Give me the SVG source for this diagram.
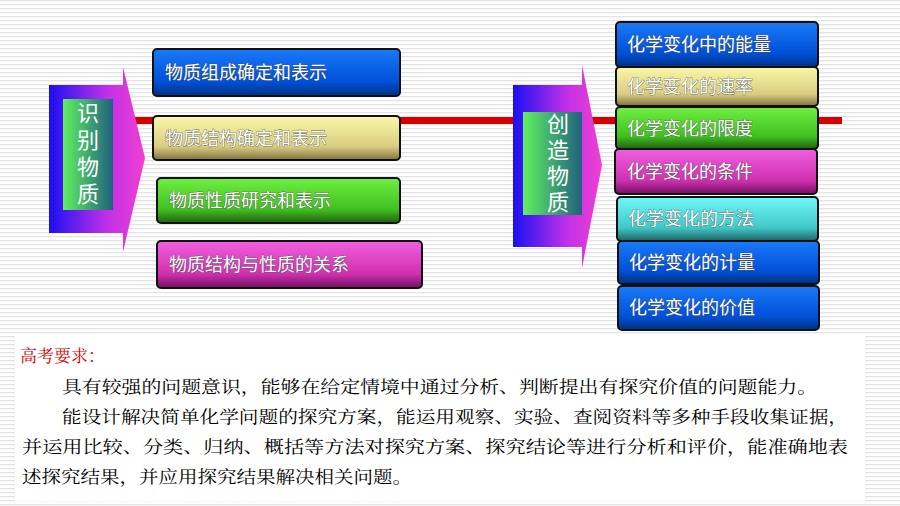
<svg xmlns="http://www.w3.org/2000/svg" width="900" height="506" viewBox="0 0 900 506">
<defs>
<pattern id="stripes" width="10" height="4" patternUnits="userSpaceOnUse"><rect width="10" height="4" fill="#ffffff"/><rect y="0" width="10" height="1.3" fill="#e4e4e4"/></pattern>
<linearGradient id="arr" x1="0" x2="1"><stop offset="0" stop-color="#1a10f0"/><stop offset="0.6" stop-color="#c030e8"/><stop offset="1" stop-color="#f040d0"/></linearGradient>
<linearGradient id="inner" x1="0" x2="1"><stop offset="0" stop-color="#60f060"/><stop offset="1" stop-color="#206080"/></linearGradient>
<linearGradient id="gBlue" x1="0" y1="0" x2="0" y2="1"><stop offset="0" stop-color="#1a7af8"/><stop offset="0.7" stop-color="#0050d8"/><stop offset="1" stop-color="#003080"/></linearGradient>
<linearGradient id="gYel" x1="0" y1="0" x2="0" y2="1"><stop offset="0" stop-color="#fbf8a8"/><stop offset="0.7" stop-color="#d8cc80"/><stop offset="1" stop-color="#807040"/></linearGradient>
<linearGradient id="gGrn" x1="0" y1="0" x2="0" y2="1"><stop offset="0" stop-color="#70f040"/><stop offset="0.7" stop-color="#40c020"/><stop offset="1" stop-color="#206010"/></linearGradient>
<linearGradient id="gMag" x1="0" y1="0" x2="0" y2="1"><stop offset="0" stop-color="#f060e0"/><stop offset="0.7" stop-color="#d030b0"/><stop offset="1" stop-color="#701060"/></linearGradient>
<linearGradient id="gCyan" x1="0" y1="0" x2="0" y2="1"><stop offset="0" stop-color="#70f8f8"/><stop offset="0.7" stop-color="#40c8c8"/><stop offset="1" stop-color="#206060"/></linearGradient>
<style>
.box{stroke:#111;stroke-width:2}
.lbl{font-family:"Noto Sans CJK SC",sans-serif;font-size:18px;fill:#fff;stroke:#4a4a4a;stroke-width:0.7;paint-order:stroke}
.big{font-family:"Noto Sans CJK SC",sans-serif;font-size:22px;fill:#fff;writing-mode:tb;letter-spacing:5px}
.t{font-family:"Liberation Serif","Noto Serif CJK SC","Noto Sans CJK SC",serif;font-size:17px;fill:#000}
</style>
</defs>
<rect width="900" height="506" fill="url(#stripes)"/>
<rect x="15" y="336" width="850" height="165" fill="#fff"/>
<rect x="135" y="117" width="707" height="7" fill="#d40000"/>
<g id="arrow-left">
<path d="M49 85 H123 V67 L145 158 L123 252 V233 H49 Z" fill="url(#arr)"/>
<rect x="63" y="99" width="50" height="111" fill="url(#inner)"/>
<text class="big" x="88" y="102">识别物质</text>
</g>
<g id="arrow-right">
<path d="M513 85 H582 V65 L602 165 L582 268 V247 H513 Z" fill="url(#arr)"/>
<rect x="523" y="112" width="59" height="103" fill="url(#inner)"/>
<text class="big" x="558" y="113" style="letter-spacing:4px">创造物质</text>
</g>
<g id="left-boxes">
<g id="l1"><rect class="box" x="153" y="49" width="247" height="47" rx="4" fill="url(#gBlue)"/><text class="lbl" x="165" y="79">物质组成确定和表示</text></g>
<g id="l2"><rect class="box" x="153" y="116" width="247" height="44" rx="4" fill="url(#gYel)"/><text class="lbl" x="165" y="145">物质结构确定和表示</text></g>
<g id="l3"><rect class="box" x="157" y="178" width="243" height="45" rx="4" fill="url(#gGrn)"/><text class="lbl" x="169" y="207">物质性质研究和表示</text></g>
<g id="l4"><rect class="box" x="157" y="241" width="265" height="47" rx="4" fill="url(#gMag)"/><text class="lbl" x="169" y="271">物质结构与性质的关系</text></g>
</g>
<g id="right-boxes">
<g id="r1"><rect class="box" x="616" y="22" width="202" height="45" rx="4" fill="url(#gBlue)"/><text class="lbl" x="627" y="51">化学变化中的能量</text></g>
<g id="r2"><rect class="box" x="616" y="67" width="202" height="39" rx="4" fill="url(#gYel)"/><text class="lbl" x="627" y="93">化学变化的速率</text></g>
<g id="r3"><rect class="box" x="616" y="107" width="202" height="42" rx="4" fill="url(#gGrn)"/><text class="lbl" x="627" y="135">化学变化的限度</text></g>
<g id="r4"><rect class="box" x="615" y="149" width="202" height="45" rx="4" fill="url(#gMag)"/><text class="lbl" x="627" y="178">化学变化的条件</text></g>
<g id="r5"><rect class="box" x="617" y="197" width="201" height="44" rx="4" fill="url(#gCyan)"/><text class="lbl" x="628" y="225">化学变化的方法</text></g>
<g id="r6"><rect class="box" x="618" y="241" width="201" height="43" rx="4" fill="url(#gBlue)"/><text class="lbl" x="629" y="269">化学变化的计量</text></g>
<g id="r7"><rect class="box" x="618" y="286" width="201" height="44" rx="4" fill="url(#gBlue)"/><text class="lbl" x="629" y="314">化学变化的价值</text></g>
</g>
<g id="requirements">
<text class="t" x="20" y="362" style="fill:#e00000">高考要求：</text>
<text class="t" x="62" y="393" textLength="755" lengthAdjust="spacingAndGlyphs">具有较强的问题意识，能够在给定情境中通过分析、判断提出有探究价值的问题能力。</text>
<text class="t" x="62" y="423" textLength="786" lengthAdjust="spacingAndGlyphs">能设计解决简单化学问题的探究方案，能运用观察、实验、查阅资料等多种手段收集证据，</text>
<text class="t" x="22" y="453" textLength="826" lengthAdjust="spacingAndGlyphs">并运用比较、分类、归纳、概括等方法对探究方案、探究结论等进行分析和评价，能准确地表</text>
<text class="t" x="22" y="483" textLength="390" lengthAdjust="spacingAndGlyphs">述探究结果，并应用探究结果解决相关问题。</text>
</g>
</svg>
